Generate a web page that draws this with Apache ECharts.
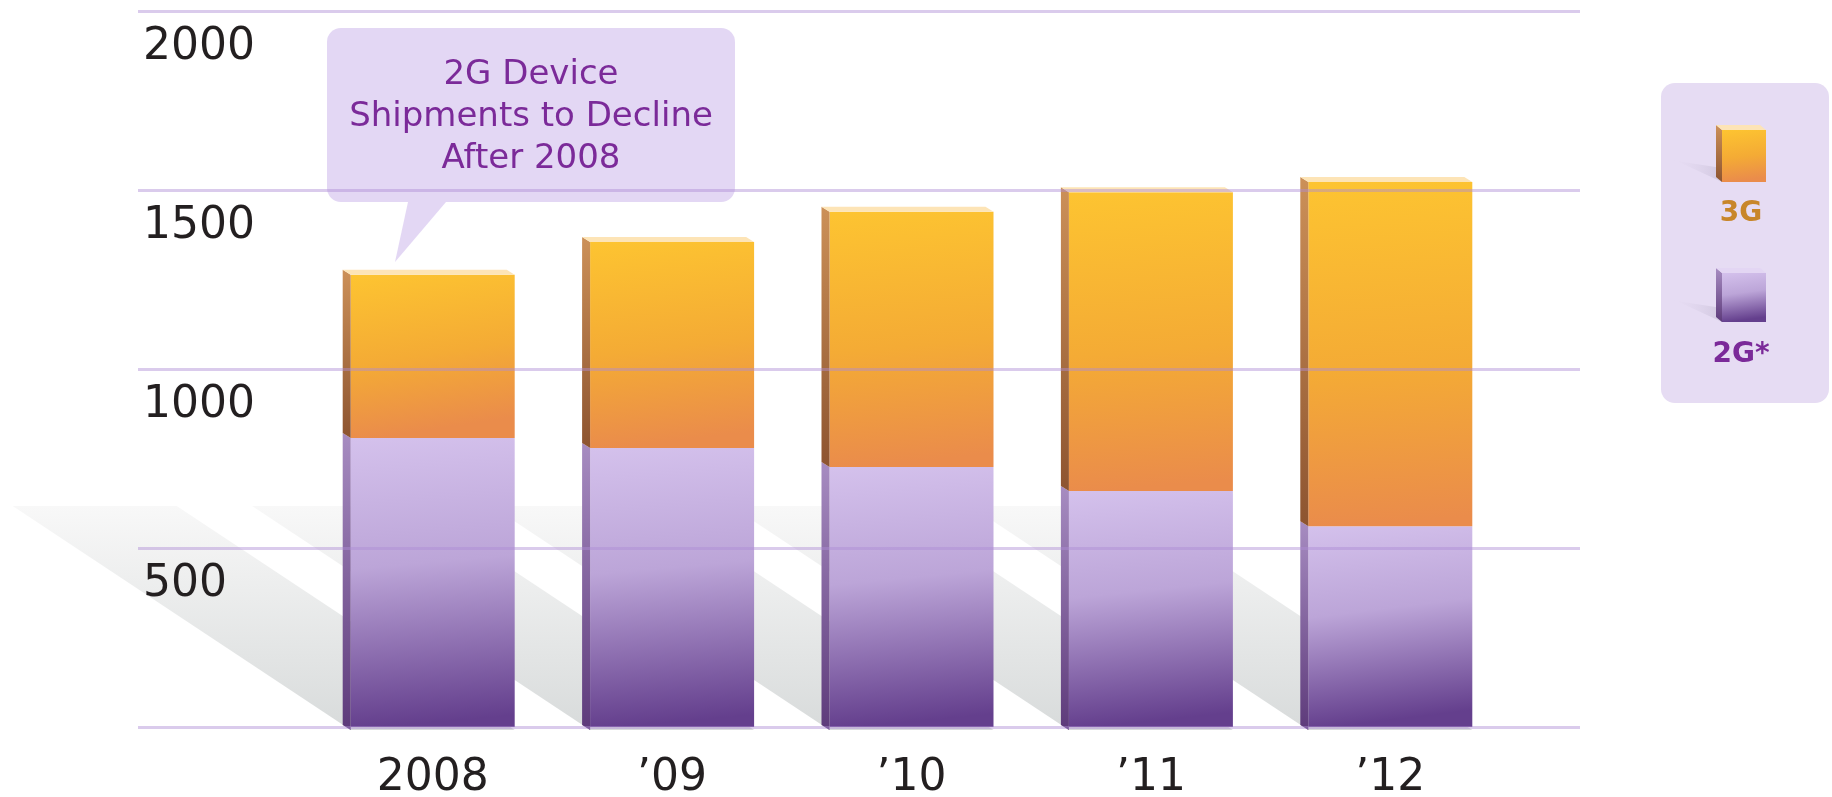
<!DOCTYPE html>
<html>
<head>
<meta charset="utf-8">
<script src="https://cdn.jsdelivr.net/npm/echarts@6/dist/echarts.min.js"></script>
<style>
html,body{margin:0;padding:0;background:#fff;}
#chart{width:1832px;height:797px;}
</style>
</head>
<body>
<div id="chart"></div>
<script>
// ---- data ----
const categories = ['2008', '\u201909', '\u201910', '\u201911', '\u201912'];
const values2G = [807, 779, 726, 659, 561];
const values3G = [456, 576, 713, 835, 961];
const yMin = 0, yMax = 2000, yInterval = 500;
const seriesNames = ['2G*', '3G'];
const calloutText = ['2G Device', 'Shipments to Decline', 'After 2008'];

// ---- styles ----
const BAR_W = 164;
const DEPTH_X = 8, DEPTH_Y = 5;
const FONT = 'DejaVu Sans';
const LG = echarts.graphic.LinearGradient;

const grad3G = new LG(0, 0, 0.15, 1, [
  {offset: 0, color: '#fdc431'},
  {offset: 0.55, color: '#f4ab35'},
  {offset: 1, color: '#ea8c4b'}
]);
const grad2G = new LG(0, 0, 0.15, 1, [
  {offset: 0, color: '#d4c1ec'},
  {offset: 0.45, color: '#bca5d8'},
  {offset: 1, color: '#643f8d'}
]);
const side3G = new LG(0, 0, 0, 1, [
  {offset: 0, color: '#cc9058'}, {offset: 1, color: '#8d5430'}
]);
const side2G = new LG(0, 0, 0, 1, [
  {offset: 0, color: '#a78cc1'}, {offset: 1, color: '#5d3a7a'}
]);

const chart = echarts.init(document.getElementById('chart'), null, {renderer: 'canvas'});

function shadowItem(params, api) {
  const base = api.coord([api.value(0), 0]);
  const x0 = base[0] - BAR_W / 2, y0 = base[1] + 3;
  const dx = 338, dy = 224;
  return {
    type: 'polygon',
    shape: {points: [[x0, y0], [x0 + BAR_W, y0], [x0 + BAR_W - dx, y0 - dy], [x0 - dx, y0 - dy]]},
    style: {
      fill: new LG(0, 0, 0, 1, [
        {offset: 0, color: 'rgba(248,248,248,1)'},
        {offset: 1, color: 'rgba(216,219,219,1)'}
      ])
    }
  };
}

function facesItem(params, api) {
  const i = api.value(0);
  const p0 = api.coord([i, 0]);
  const p1 = api.coord([i, api.value(1)]);
  const p2 = api.coord([i, api.value(2)]);
  const x0 = p0[0] - BAR_W / 2;
  const yb = p0[1] + 3;
  return {
    type: 'group',
    children: [
      {type: 'polygon', shape: {points: [[x0, yb], [x0, p1[1]], [x0 - DEPTH_X, p1[1] - DEPTH_Y], [x0 - DEPTH_X, yb - DEPTH_Y]]}, style: {fill: side2G}},
      {type: 'polygon', shape: {points: [[x0, p1[1]], [x0, p2[1]], [x0 - DEPTH_X, p2[1] - DEPTH_Y], [x0 - DEPTH_X, p1[1] - DEPTH_Y]]}, style: {fill: side3G}},
      {type: 'polygon', shape: {points: [[x0, p2[1]], [x0 + BAR_W, p2[1]], [x0 + BAR_W - DEPTH_X, p2[1] - DEPTH_Y], [x0 - DEPTH_X, p2[1] - DEPTH_Y]]}, style: {fill: '#fde4b6'}}
    ]
  };
}

function cube(x, y, w, h, front, side, top) {
  return [
    {type: 'polygon', shape: {points: [[x + 6, y + h], [x - 50, y + h - 26], [x - 46, y + h - 22], [x + 6, y + h - 14]]},
      style: {fill: new LG(1, 0, 0, 0, [{offset: 0, color: 'rgba(195,185,210,0.6)'}, {offset: 1, color: 'rgba(230,220,243,0)'}])}},
    {type: 'polygon', shape: {points: [[x + 6, y + 5], [x, y], [x, y + h - 5], [x + 6, y + h]]}, style: {fill: side}},
    {type: 'rect', shape: {x: x + 6, y: y + 5, width: w - 6, height: h - 5}, style: {fill: front}},
    {type: 'polygon', shape: {points: [[x, y], [x + w - 6, y], [x + w, y + 5], [x + 6, y + 5]]}, style: {fill: top}}
  ];
}

const option = {
  backgroundColor: '#ffffff',
  animation: false,
  grid: [
    {left: 138, right: 252, top: 11, bottom: 70, outerBoundsMode: 'none', containLabel: false},
    {left: 313, right: 322, top: 11, bottom: 70, outerBoundsMode: 'none', containLabel: false}
  ],
  xAxis: [
    {gridIndex: 0, type: 'category', data: categories, show: false},
    {gridIndex: 1, type: 'category', data: categories,
      axisLine: {show: false}, axisTick: {show: false},
      axisLabel: {margin: 30, fontSize: 44, fontFamily: FONT, color: '#231f20'}}
  ],
  yAxis: [
    {gridIndex: 0, type: 'value', min: yMin, max: yMax, interval: yInterval, z: 10,
      axisLine: {show: false}, axisTick: {show: false},
      splitLine: {lineStyle: {color: 'rgba(172,140,212,0.45)', width: 3}},
      axisLabel: {inside: true, margin: 5, verticalAlign: 'top', padding: [15, 0, 0, 0],
        fontSize: 44, fontFamily: FONT, color: '#231f20',
        formatter: v => (v === 0 ? '' : String(v))}},
    {gridIndex: 1, type: 'value', min: yMin, max: yMax, interval: yInterval, show: false}
  ],
  series: [
    {type: 'custom', name: 'shadow', xAxisIndex: 1, yAxisIndex: 1, z: 1, silent: true,
      renderItem: shadowItem, data: categories.map((c, i) => [i, 0])},
    {type: 'bar', name: seriesNames[0], xAxisIndex: 1, yAxisIndex: 1, stack: 'total', barWidth: BAR_W, z: 2,
      itemStyle: {color: grad2G}, data: values2G},
    {type: 'bar', name: seriesNames[1], xAxisIndex: 1, yAxisIndex: 1, stack: 'total', barWidth: BAR_W, z: 2,
      itemStyle: {color: grad3G}, data: values3G},
    {type: 'custom', name: 'faces', xAxisIndex: 1, yAxisIndex: 1, z: 3, silent: true,
      renderItem: facesItem, data: values2G.map((v, i) => [i, v, v + values3G[i]])}
  ],
  graphic: [
    {type: 'group', z: 20, children: [
      {type: 'rect', shape: {x: 327, y: 28, width: 408, height: 174, r: 14}, style: {fill: 'rgba(221,206,241,0.82)'}},
      {type: 'polygon', shape: {points: [[408, 202], [446, 202], [395, 262]]}, style: {fill: 'rgba(221,206,241,0.82)'}},
      {type: 'text', x: 531, y: 117, style: {text: calloutText.join('\n'), font: '34px "DejaVu Sans"', lineHeight: 42,
        fill: '#7b2a99', align: 'center', verticalAlign: 'middle'}}
    ]},
    {type: 'group', z: 20, children: [
      {type: 'rect', shape: {x: 1661, y: 83, width: 168, height: 320, r: 14}, style: {fill: '#e6dcf3'}},
      ...cube(1716, 125, 50, 57, grad3G, side3G, '#fde4b6'),
      {type: 'text', x: 1741, y: 214, style: {text: seriesNames[1], font: 'bold 28px "DejaVu Sans"', fill: '#c8862a', align: 'center', verticalAlign: 'middle'}},
      ...cube(1716, 268, 50, 54, grad2G, side2G, '#e3d6f3'),
      {type: 'text', x: 1741, y: 355, style: {text: seriesNames[0], font: 'bold 28px "DejaVu Sans"', fill: '#7b2a99', align: 'center', verticalAlign: 'middle'}}
    ]}
  ]
};
chart.setOption(option);
</script>
</body>
</html>
